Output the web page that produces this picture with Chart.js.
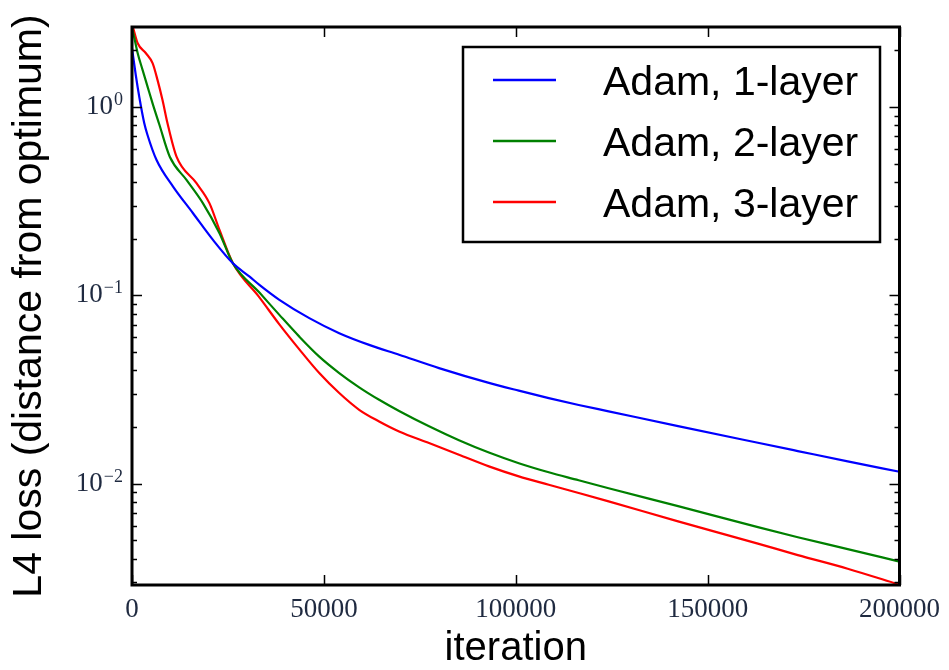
<!DOCTYPE html>
<html>
<head>
<meta charset="utf-8">
<title>L4 loss vs iteration</title>
<script src="https://cdn.jsdelivr.net/npm/chart.js@4.4.1/dist/chart.umd.min.js"></script>
<style>
  body { margin: 0; background: #fff; }
</style>
</head>
<body>
<canvas id="lossChart" width="949" height="670"></canvas>
<script>
// x axis ticks
const xTicks = [0, 50000, 100000, 150000, 200000];
// y axis decades
const yMajor = [0.01, 0.1, 1];

// Adam, 1-layer
const iter1 = [0, 1000, 1900, 3200, 4000, 6400, 10700, 15900, 21100, 26300, 30650, 33200, 38400, 46200, 54000, 61800, 69600, 80000, 93000, 100800, 108600, 116400, 124200, 142300, 163100, 173500, 186500, 200000];
const loss1 = [2.05, 1.47, 1.13, 0.82, 0.715, 0.523, 0.378, 0.273, 0.197, 0.148, 0.1257, 0.1137, 0.0947, 0.0757, 0.063, 0.0546, 0.0484, 0.0411, 0.0343, 0.0312, 0.0285, 0.0262, 0.02424, 0.02023, 0.0165, 0.01491, 0.01314, 0.01158];

// Adam, 2-layer
const iter2 = [0, 340, 1480, 2770, 4070, 5360, 7100, 9840, 14200, 18500, 22800, 26300, 33200, 38400, 43600, 48800, 54000, 59200, 64400, 69600, 77400, 85200, 93000, 100800, 108600, 116400, 124200, 142300, 163100, 173500, 186500, 200000];
const loss2 = [2.6, 2.46, 1.93, 1.57, 1.28, 1.046, 0.81, 0.545, 0.41, 0.308, 0.214, 0.148, 0.1035, 0.0788, 0.0604, 0.0473, 0.0387, 0.0325, 0.0279, 0.02433, 0.02018, 0.01702, 0.01464, 0.01285, 0.0115, 0.01044, 0.00946, 0.0076, 0.00588, 0.0052, 0.0045, 0.00386];

// Adam, 3-layer
const iter3 = [0, 340, 1480, 3630, 5360, 6660, 7950, 9250, 11600, 16800, 20200, 22800, 26300, 33200, 38400, 43600, 48800, 54000, 59200, 64400, 69600, 77400, 85200, 93000, 100800, 108600, 116400, 124200, 142300, 163100, 173500, 186500, 200000];
const loss3 = [2.75, 2.61, 2.18, 1.93, 1.71, 1.39, 1.09, 0.82, 0.545, 0.394, 0.308, 0.2226, 0.148, 0.0976, 0.0702, 0.0517, 0.0387, 0.0303, 0.0247, 0.0214, 0.01894, 0.01644, 0.01426, 0.01236, 0.01094, 0.00988, 0.00893, 0.00806, 0.00631, 0.00481, 0.00418, 0.00354, 0.00291];

const labelColor = '#1f2a40';

function toPoints(xs, ys) {
    return xs.map((x, i) => ({ x: x, y: ys[i] }));
}

// box frame, inward ticks and 10^n labels like a matplotlib axes
const axesFrame = {
    id: 'axesFrame',
    afterDatasetsDraw(chart) {
        const ctx = chart.ctx;
        const area = chart.chartArea;
        const xs = chart.scales.x;
        const ys = chart.scales.y;
        ctx.save();
        ctx.strokeStyle = '#000';

        // ticks
        ctx.lineWidth = 1.5;
        ctx.beginPath();
        xTicks.forEach(v => {
            const px = Math.round(xs.getPixelForValue(v)) + 0.5;
            ctx.moveTo(px, area.bottom);
            ctx.lineTo(px, area.bottom - 10);
            ctx.moveTo(px, area.top);
            ctx.lineTo(px, area.top + 10);
        });
        for (let e = -3; e <= 0; e++) {
            for (let k = 1; k <= 9; k++) {
                const v = k * Math.pow(10, e);
                if (v < ys.min || v > ys.max) continue;
                const py = Math.round(ys.getPixelForValue(v)) + 0.5;
                const len = k === 1 ? 10 : 5;
                ctx.moveTo(area.left, py);
                ctx.lineTo(area.left + len, py);
                ctx.moveTo(area.right, py);
                ctx.lineTo(area.right - len, py);
            }
        }
        ctx.stroke();

        // frame
        ctx.lineWidth = 3;
        ctx.strokeRect(area.left, area.top, area.right - area.left, area.bottom - area.top);

        // y labels
        ctx.fillStyle = labelColor;
        ctx.textAlign = 'right';
        ctx.textBaseline = 'alphabetic';
        yMajor.forEach(v => {
            const py = ys.getPixelForValue(v);
            const exp = Math.round(Math.log10(v));
            const expText = exp < 0 ? '\u2212' + Math.abs(exp) : String(exp);
            const right = area.left - 9;
            ctx.font = '18px "Liberation Serif"';
            ctx.fillText(expText, right, py - 2);
            const w = ctx.measureText(expText).width;
            ctx.font = '27px "Liberation Serif"';
            ctx.fillText('10', right - w - 1, py + 7);
        });
        ctx.restore();
    }
};

// legend in a framed box at the upper right of the plot
const boxLegend = {
    id: 'boxLegend',
    afterDraw(chart) {
        const ctx = chart.ctx;
        const area = chart.chartArea;
        const left = area.left + 331, top = area.top + 20;
        const w = 417, h = 195;
        ctx.save();
        ctx.fillStyle = '#fff';
        ctx.fillRect(left, top, w, h);
        ctx.lineWidth = 2.5;
        ctx.strokeStyle = '#000';
        ctx.strokeRect(left, top, w, h);
        ctx.font = '41px "Liberation Sans"';
        ctx.textBaseline = 'alphabetic';
        ctx.textAlign = 'left';
        chart.data.datasets.forEach((ds, i) => {
            const y = top + 33 + i * 61;
            ctx.strokeStyle = ds.borderColor;
            ctx.lineWidth = 2.5;
            ctx.beginPath();
            ctx.moveTo(left + 30, y);
            ctx.lineTo(left + 93, y);
            ctx.stroke();
            ctx.fillStyle = '#000';
            ctx.fillText(ds.label, left + 140, y + 15);
        });
        ctx.restore();
    }
};

const ctx = document.getElementById('lossChart').getContext('2d');
new Chart(ctx, {
    type: 'line',
    data: {
        datasets: [
            { label: 'Adam, 1-layer', data: toPoints(iter1, loss1), borderColor: '#0000ff' },
            { label: 'Adam, 2-layer', data: toPoints(iter2, loss2), borderColor: '#008000' },
            { label: 'Adam, 3-layer', data: toPoints(iter3, loss3), borderColor: '#ff0000' }
        ]
    },
    options: {
        responsive: false,
        animation: false,
        layout: { padding: { top: 27, right: 47, left: 0, bottom: 0 } },
        elements: {
            point: { radius: 0 },
            line: { borderWidth: 2.2, cubicInterpolationMode: 'monotone' }
        },
        plugins: {
            legend: { display: false },
            tooltip: { enabled: false }
        },
        scales: {
            x: {
                type: 'linear',
                min: 0,
                max: 200000,
                grid: { display: false, drawTicks: false },
                border: { display: false },
                afterBuildTicks: s => { s.ticks = xTicks.map(v => ({ value: v })); },
                ticks: {
                    autoSkip: false,
                    maxRotation: 0,
                    padding: 9,
                    color: labelColor,
                    font: { family: 'Liberation Serif', size: 27 },
                    callback: v => String(v)
                },
                title: {
                    display: true,
                    text: 'iteration',
                    color: '#000',
                    font: { family: 'Liberation Sans', size: 40, lineHeight: 1 },
                    padding: { top: 0, bottom: 1 }
                },
                afterFit: s => { s.height = 85; }
            },
            y: {
                type: 'logarithmic',
                min: 0.0029,
                max: 2.66,
                grid: { display: false, drawTicks: false },
                border: { display: false },
                ticks: { display: false },
                title: {
                    display: true,
                    text: 'L4 loss (distance from optimum)',
                    color: '#000',
                    font: { family: 'Liberation Sans', size: 41, lineHeight: 1 },
                    padding: { top: 9, bottom: 0 }
                },
                afterFit: s => { s.width = 132; }
            }
        }
    },
    plugins: [axesFrame, boxLegend]
});
</script>
</body>
</html>
